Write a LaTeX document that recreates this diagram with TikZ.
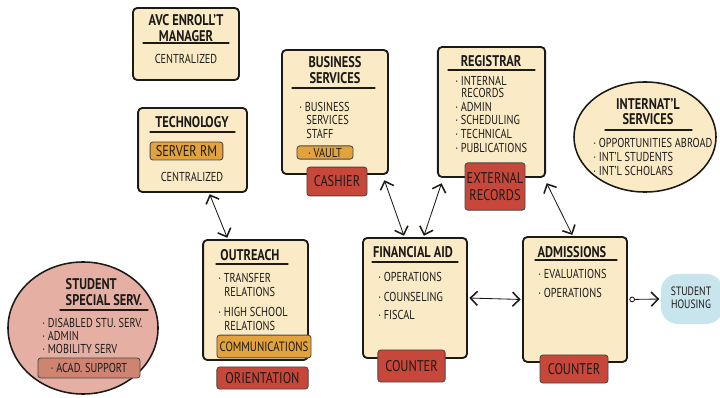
\documentclass[tikz,border=0pt]{standalone}
\usepackage{fontspec}
\setmainfont{PT Sans}[FakeStretch=0.8]
\usepackage{tikz}
\usetikzlibrary{calc,positioning,shapes.geometric,arrows.meta}
\definecolor{ink}{HTML}{1C1A17}
\definecolor{cream}{HTML}{FAEBC6}
\definecolor{amber}{HTML}{E2A23E}
\definecolor{brick}{HTML}{C7473B}
\definecolor{rose}{HTML}{E5B0A3}
\definecolor{roseDark}{HTML}{CF8472}
\definecolor{sky}{HTML}{C8E5EE}
\tikzset{
  UnitBox/.style={draw=ink, line width=1.3pt, fill=cream, rounded corners=3pt, inner sep=0pt},
  UnitBlob/.style={ellipse, draw=ink, line width=1.1pt, inner sep=0pt},
  TagBox/.style={draw=ink!80, line width=0.6pt, rounded corners=2pt, inner sep=0pt,
    text=ink, align=center, font=\fontsize{11}{12}\selectfont},
  Heading/.style={font=\bfseries\fontsize{11}{10.8}\selectfont, text=ink, align=center, inner sep=0pt},
  Item/.style={font=\fontsize{9.2}{10}\selectfont, text=ink, anchor=west, inner sep=0pt},
  Rule/.style={draw=ink, line width=0.9pt},
  Link/.style={draw=ink, line width=0.6pt, shorten <=1pt, shorten >=1pt,
    >={Straight Barb[length=5pt,width=10pt,line width=1.1pt]}, <->}
}

\begin{document}
\begin{tikzpicture}[x=0.025cm, y=-0.025cm, line cap=round, line join=round]
  \useasboundingbox (0,0) rectangle (720,398);

  % enrollment manager
  \node[UnitBox, minimum width=2.65cm, minimum height=1.8cm] (avc) at (186,44) {};
  \node[Heading] (avcHead) at (186,28) {AVC ENROLL'T\\MANAGER};
  \draw[Rule] (143,43) -- (229,43);
  \node[Item, anchor=center] (avcNote) at (186,59) {CENTRALIZED};

  % technology
  \node[UnitBox, minimum width=2.72cm, minimum height=2.1cm] (tech) at (192.5,150) {};
  \node[Heading] (techHead) at (192,122) {TECHNOLOGY};
  \draw[Rule] (150,132) -- (235,132);
  \node[TagBox, fill=amber, minimum width=1.82cm, minimum height=0.45cm,
    font=\fontsize{11}{12}\selectfont] (srv) at (186.5,151) {SERVER RM};
  \node[Item, anchor=center] (techNote) at (192,177) {CENTRALIZED};

  % business services
  \node[UnitBox, minimum width=2.65cm, minimum height=3.1cm] (busi) at (335,112) {};
  \node[Heading] (busiHead) at (335,70) {BUSINESS\\SERVICES};
  \draw[Rule] (292,88) -- (375,88);
  \node[Item] (busiA) at (299,107) {· BUSINESS};
  \node[Item] (busiB) at (306,120) {SERVICES};
  \node[Item] (busiC) at (306,134) {STAFF};
  \node[TagBox, fill=amber, minimum width=1.4cm, minimum height=0.33cm,
    font=\fontsize{9.2}{10}\selectfont] (vault) at (325,152.5) {· VAULT};
  \node[TagBox, fill=brick, minimum width=1.5cm, minimum height=0.72cm] (cash) at (337,181.5) {CASHIER};

  % registrar
  \node[UnitBox, minimum width=2.68cm, minimum height=3.25cm] (regi) at (491.5,112) {};
  \node[Heading] (regiHead) at (491,61) {REGISTRAR};
  \draw[Rule] (448,70) -- (535,70);
  \node[Item] (regiA) at (455,80.5) {· INTERNAL};
  \node[Item] (regiB) at (461,93) {RECORDS};
  \node[Item] (regiC) at (455,106.5) {· ADMIN};
  \node[Item] (regiD) at (455,120) {· SCHEDULING};
  \node[Item] (regiE) at (455,134) {· TECHNICAL};
  \node[Item] (regiF) at (455,148) {· PUBLICATIONS};
  \node[TagBox, fill=brick, minimum width=1.5cm, minimum height=1.18cm] (extr) at (495,186.5) {EXTERNAL\\RECORDS};

  % international services
  \node[UnitBlob, fill=cream, minimum width=3.55cm, minimum height=2.75cm] (intl) at (645,137) {};
  \node[Heading] (intlHead) at (648,112) {INTERNAT'L\\SERVICES};
  \draw[Rule] (605,130) -- (692,130);
  \node[Item] (intlA) at (593,143) {· OPPORTUNITIES ABROAD};
  \node[Item] (intlB) at (593,157) {· INT'L STUDENTS};
  \node[Item] (intlC) at (593,171) {· INT'L SCHOLARS};

  % student special services
  \node[UnitBlob, fill=rose, minimum width=3.75cm, minimum height=3.3cm] (stud) at (83,328) {};
  \node[Heading, align=left] (studHead) at (104,292) {STUDENT\\SPECIAL SERV.};
  \draw[Rule] (60,310) -- (148,310);
  \node[Item] (studA) at (42,323) {· DISABLED STU. SERV.};
  \node[Item] (studB) at (42,336) {· ADMIN};
  \node[Item] (studC) at (42,349) {· MOBILITY SERV};
  \node[TagBox, fill=roseDark, minimum width=2.55cm, minimum height=0.5cm,
    font=\fontsize{9.2}{10}\selectfont] (acad) at (89,368) {· ACAD. SUPPORT};

  % outreach
  \node[UnitBox, minimum width=2.62cm, minimum height=3.0cm] (outr) at (255.5,300) {};
  \node[Heading] (outrHead) at (250,255) {OUTREACH};
  \draw[Rule] (216,264) -- (288,264);
  \node[Item] (outrA) at (218,278) {· TRANSFER};
  \node[Item] (outrB) at (224,292) {RELATIONS};
  \node[Item] (outrC) at (218,312) {· HIGH SCHOOL};
  \node[Item] (outrD) at (224,326) {RELATIONS};
  \node[TagBox, fill=amber, minimum width=2.35cm, minimum height=0.57cm,
    font=\fontsize{9.6}{10}\selectfont] (comm) at (264,346.5) {COMMUNICATIONS};
  \node[TagBox, fill=brick, minimum width=2.28cm, minimum height=0.55cm] (orie) at (262.5,378) {ORIENTATION};

  % financial aid
  \node[UnitBox, minimum width=2.6cm, minimum height=3.0cm] (fina) at (415,298) {};
  \node[Heading] (finaHead) at (413,252) {FINANCIAL AID};
  \draw[Rule] (372,262) -- (458,262);
  \node[Item] (finaA) at (378,277) {· OPERATIONS};
  \node[Item] (finaB) at (378,297) {· COUNSELING};
  \node[Item] (finaC) at (378,315) {· FISCAL};
  \node[TagBox, fill=brick, minimum width=1.68cm, minimum height=0.8cm] (fcnt) at (411.5,366) {COUNTER};

  % admissions
  \node[UnitBox, minimum width=2.6cm, minimum height=3.12cm] (admi) at (575,299.5) {};
  \node[Heading] (admiHead) at (572,252) {ADMISSIONS};
  \draw[Rule] (535,260) -- (617,260);
  \node[Item] (admiA) at (538,274) {· EVALUATIONS};
  \node[Item] (admiB) at (538,293) {· OPERATIONS};
  \node[TagBox, fill=brick, minimum width=1.7cm, minimum height=0.7cm] (acnt) at (574,369) {COUNTER};

  % housing
  \node[fill=sky, rounded corners=12pt, minimum width=1.55cm, minimum height=1.25cm,
    inner sep=0pt] (hous) at (692,299) {};
  \node[Item, anchor=center, align=center, font=\fontsize{8.6}{9.4}\selectfont]
    (housText) at (691,298) {STUDENT\\HOUSING};

  % links between units
  \draw[Link] ($(tech.south west)!0.65!(tech.south east)$) -- ($(outr.north west)!0.24!(outr.north east)$);
  \draw[Link] ($(busi.south east)+(-5,4)$) -- ($(fina.north west)!0.4!(fina.north east)$);
  \draw[Link] ($(regi.south west)+(5,4)$) -- ($(fina.north west)!0.58!(fina.north east)$);
  \draw[Link] ($(regi.south east)+(0,4)$) -- ($(admi.north west)!0.48!(admi.north east)$);
  \draw[Link] (fina.east) -- (admi.west);
  \draw[Link, {Circle[open,length=4pt]}->] (admi.east) -- (hous.west);
\end{tikzpicture}
\end{document}
